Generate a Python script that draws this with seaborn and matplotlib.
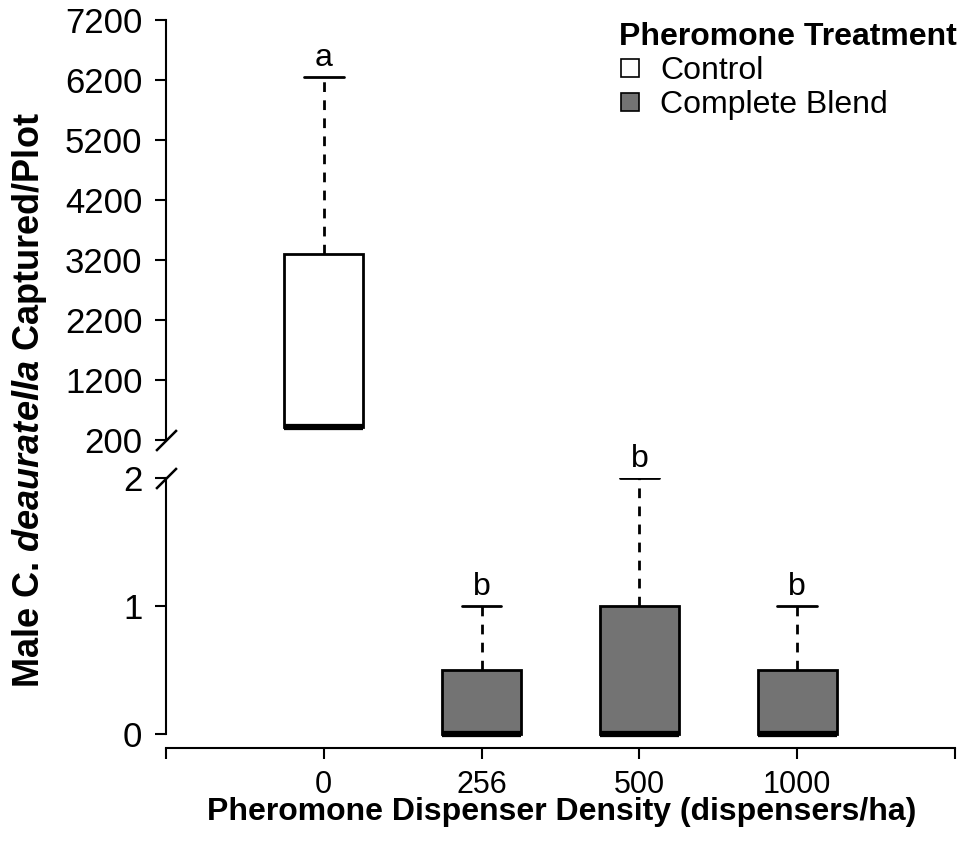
import matplotlib
matplotlib.use("Agg")
import matplotlib.pyplot as plt
from matplotlib.lines import Line2D
import pandas as pd
import seaborn as sns

# Category labels and treatment names
densities = ["0", "256", "500", "1000"]
treatments = ["Control", "Complete Blend"]
treatment_colors = {"Control": "#ffffff", "Complete Blend": "#737373"}

# Trap captures per plot for each dispenser density
control_0 = [410, 410, 410, 3300, 6250]
blend_256 = [0, 0, 1]
blend_500 = [0, 0, 0, 1, 2]
blend_1000 = [0, 0, 1]

# Significance letters over each box
letters = {"0": "a", "256": "b", "500": "b", "1000": "b"}

# Axis tick values
top_ticks = [200, 1200, 2200, 3200, 4200, 5200, 6200, 7200]
bottom_ticks = [0, 1, 2]

sns.set_theme(style="white")
base_font = "Liberation Sans"
plt.rcParams["font.family"] = [base_font, "DejaVu Sans"]
plt.rcParams["text.color"] = "black"
plt.rcParams["mathtext.fontset"] = "custom"
plt.rcParams["mathtext.bfit"] = f"{base_font}:italic:bold"
plt.rcParams["mathtext.rm"] = base_font

rows = []
for dens, vals, trt in [("0", control_0, "Control"), ("256", blend_256, "Complete Blend"),
                        ("500", blend_500, "Complete Blend"), ("1000", blend_1000, "Complete Blend")]:
    for v in vals:
        rows.append({"density": dens, "count": v, "treatment": trt})
df = pd.DataFrame(rows)

fig = plt.figure(figsize=(9.6, 8.41), dpi=100)
W, H = 960, 841
left = 166 / W
width = (955 - 166) / W
ax_top = fig.add_axes([left, (H - 440) / H, width, 420 / H])
ax_bot = fig.add_axes([left, (H - 738) / H, width, 260 / H])

box_kw = dict(x="density", y="count", hue="treatment", order=densities,
              palette=treatment_colors, dodge=False, saturation=1, width=0.5,
              linecolor="black", linewidth=2, legend=False, showfliers=False,
              whiskerprops={"linestyle": (0, (3.5, 3)), "linewidth": 2},
              capprops={"linewidth": 2},
              medianprops={"linewidth": 4.5, "color": "black"})

sns.boxplot(data=df[df.treatment == "Control"], ax=ax_top, **box_kw)
sns.boxplot(data=df[df.treatment == "Complete Blend"], ax=ax_bot, **box_kw)

for ax in (ax_top, ax_bot):
    ax.set_xlim(-1, 4)
    ax.set_xlabel("")
    ax.set_ylabel("")
    ax.set_facecolor("white")
    for s in ("top", "right"):
        ax.spines[s].set_visible(False)
    ax.spines["left"].set_color("black")
    ax.spines["left"].set_linewidth(1.5)
    ax.tick_params(axis="y", which="both", left=True, direction="out", length=8,
                   width=1.5, color="black", labelsize=25, labelcolor="black", pad=9)

# upper panel: large counts
ax_top.set_ylim(200, 7200)
ax_top.set_yticks(top_ticks)
ax_top.spines["bottom"].set_visible(False)
ax_top.tick_params(axis="x", bottom=False, labelbottom=False)

# lower panel: small counts
ax_bot.set_ylim(-0.03, 2.0)
ax_bot.set_yticks(bottom_ticks)
ax_bot.spines["left"].set_bounds(0, 2)
ax_bot.spines["bottom"].set_position(("outward", 7))
ax_bot.spines["bottom"].set_color("black")
ax_bot.spines["bottom"].set_linewidth(1.5)
ax_bot.set_xticks([-1, 0, 1, 2, 3, 4])
ax_bot.set_xticklabels([""] + densities + [""])
ax_bot.tick_params(axis="x", bottom=True, direction="out", length=8, width=1.5,
                   color="black", labelsize=22, labelcolor="black", pad=8)

# axis break marks
brk = dict(marker=[(-1, -1), (1, 1)], markersize=15, linestyle="none",
           color="black", mec="black", mew=1.8, clip_on=False)
ax_top.plot([0], [0], transform=ax_top.transAxes, **brk)
ax_bot.plot([0], [1], transform=ax_bot.transAxes, **brk)

# significance letters above the upper whiskers
maxima = df.groupby("density")["count"].max()
for i, d in enumerate(densities):
    ax = ax_top if d == "0" else ax_bot
    ax.annotate(letters[d], (i, maxima[d]), xytext=(0, 3), textcoords="offset points",
                ha="center", va="bottom", fontsize=23, color="black")

# legend
handles = [Line2D([], [], marker="s", linestyle="none", markersize=13,
                  markerfacecolor=treatment_colors[t], markeredgecolor="black",
                  markeredgewidth=1.2, label=t) for t in treatments]
leg = ax_top.legend(handles=handles, title="Pheromone Treatment", loc="upper right",
                    bbox_to_anchor=(1.018, 1.025), frameon=False, fontsize=23,
                    title_fontproperties={"weight": "bold", "size": 23},
                    handletextpad=0.6, handlelength=0.7, borderaxespad=0,
                    labelspacing=0.12, alignment="left")
leg.get_title().set_color("black")
for t in leg.get_texts():
    t.set_color("black")

fig.text(562 / W, (H - 812) / H, "Pheromone Dispenser Density (dispensers/ha)",
         ha="center", va="center", fontsize=23, fontweight="bold", color="black")
fig.text(30 / W, (H - 400) / H, r"Male C. $\mathbfit{deauratella}$ Captured/Plot",
         ha="center", va="center", rotation=90, fontsize=26, fontweight="bold",
         color="black")

fig.savefig("out.png", dpi=100, facecolor="white")
